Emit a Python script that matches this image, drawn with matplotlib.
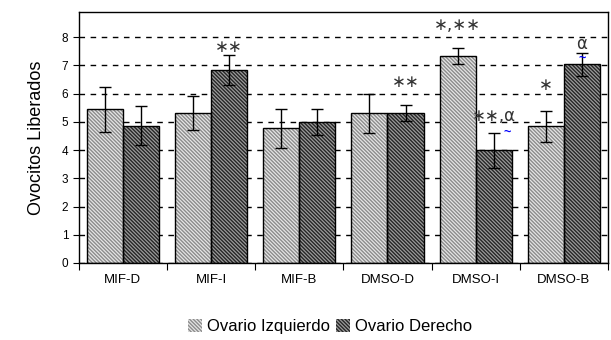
import matplotlib.pyplot as plt
import numpy as np

plt.rcParams['font.family'] = ['Liberation Sans', 'DejaVu Sans']
plt.rcParams['hatch.linewidth'] = 1.0

groups = ["MIF-D", "MIF-I", "MIF-B", "DMSO-D", "DMSO-I", "DMSO-B"]
izq = [5.45, 5.30, 4.77, 5.30, 7.33, 4.85]
izq_err = [0.80, 0.60, 0.70, 0.70, 0.28, 0.55]
der = [4.87, 6.82, 5.00, 5.30, 4.00, 7.04]
der_err = [0.70, 0.53, 0.47, 0.28, 0.62, 0.40]

# (group, bar side, text, y)
marks = [(1, 1, "∗∗", 7.65), (3, 1, "∗∗", 6.4), (4, 0, "∗,∗∗", 8.42),
         (4, 1, "∗∗,α", 5.2), (5, 0, "∗", 6.3), (5, 1, "α", 7.75)]

fig = plt.figure(figsize=(6.11, 3.4), dpi=100)
ax = fig.add_axes([0.129, 0.2265, 0.866, 0.739])

x = np.arange(len(groups))
w = 0.41
ax.set_axisbelow(True)
b1 = ax.bar(x - w / 2, izq, width=w, facecolor="#e6e6e6", edgecolor="#8c8c8c",
            hatch="\\" * 9, linewidth=0, label="Ovario Izquierdo")
b2 = ax.bar(x + w / 2, der, width=w, facecolor="#9c9c9c", edgecolor="#262626",
            hatch="\\" * 9, linewidth=0, label="Ovario Derecho")
# outlines
ax.bar(x - w / 2, izq, width=w, fill=False, edgecolor="black", linewidth=1)
ax.bar(x + w / 2, der, width=w, fill=False, edgecolor="black", linewidth=1)
ax.errorbar(x - w / 2, izq, yerr=izq_err, fmt="none", ecolor="black", elinewidth=1, capsize=4)
ax.errorbar(x + w / 2, der, yerr=der_err, fmt="none", ecolor="black", elinewidth=1, capsize=4)

for g, side, txt, y in marks:
    xp = g + (w / 2 if side else -w / 2)
    ax.text(xp, y, txt, ha="center", va="center", fontsize=12, color="#333",
            family="DejaVu Sans")
# blue squiggles under alphas (spell-check marks)
ax.text(5 + w / 2, 7.22, "~", ha="center", va="center", fontsize=9,
        fontweight="bold", color="blue")
ax.text(4.36, 4.6, "~", ha="center", va="center", fontsize=9,
        fontweight="bold", color="blue")

ax.set_xlim(-0.5, 5.5)
ax.set_ylim(0, 8.9)
ax.set_yticks(range(9))
ax.tick_params(axis="y", labelsize=8.5, length=4, direction="out")
ax.yaxis.grid(True, linestyle=(0, (4, 4)), color="black", linewidth=1)
ax.set_xticks(np.arange(-0.5, 6.0, 1.0))
ax.set_xticklabels([])
ax.set_xticks(x, minor=True)
ax.set_xticklabels(groups, minor=True, fontsize=9.5)
ax.tick_params(axis="x", which="major", length=5)
ax.tick_params(axis="x", which="minor", length=0, pad=8)
for s in ax.spines.values():
    s.set_linewidth(1)
ax.set_ylabel("Ovocitos Liberados", fontsize=13, labelpad=12)

fig.legend(handles=[b1, b2], loc="center", bbox_to_anchor=(0.54, 0.04), ncol=2,
           frameon=False, fontsize=12, handlelength=0.8, handleheight=0.8,
           handletextpad=0.3, columnspacing=0.4)

fig.savefig("out.png", dpi=100)
